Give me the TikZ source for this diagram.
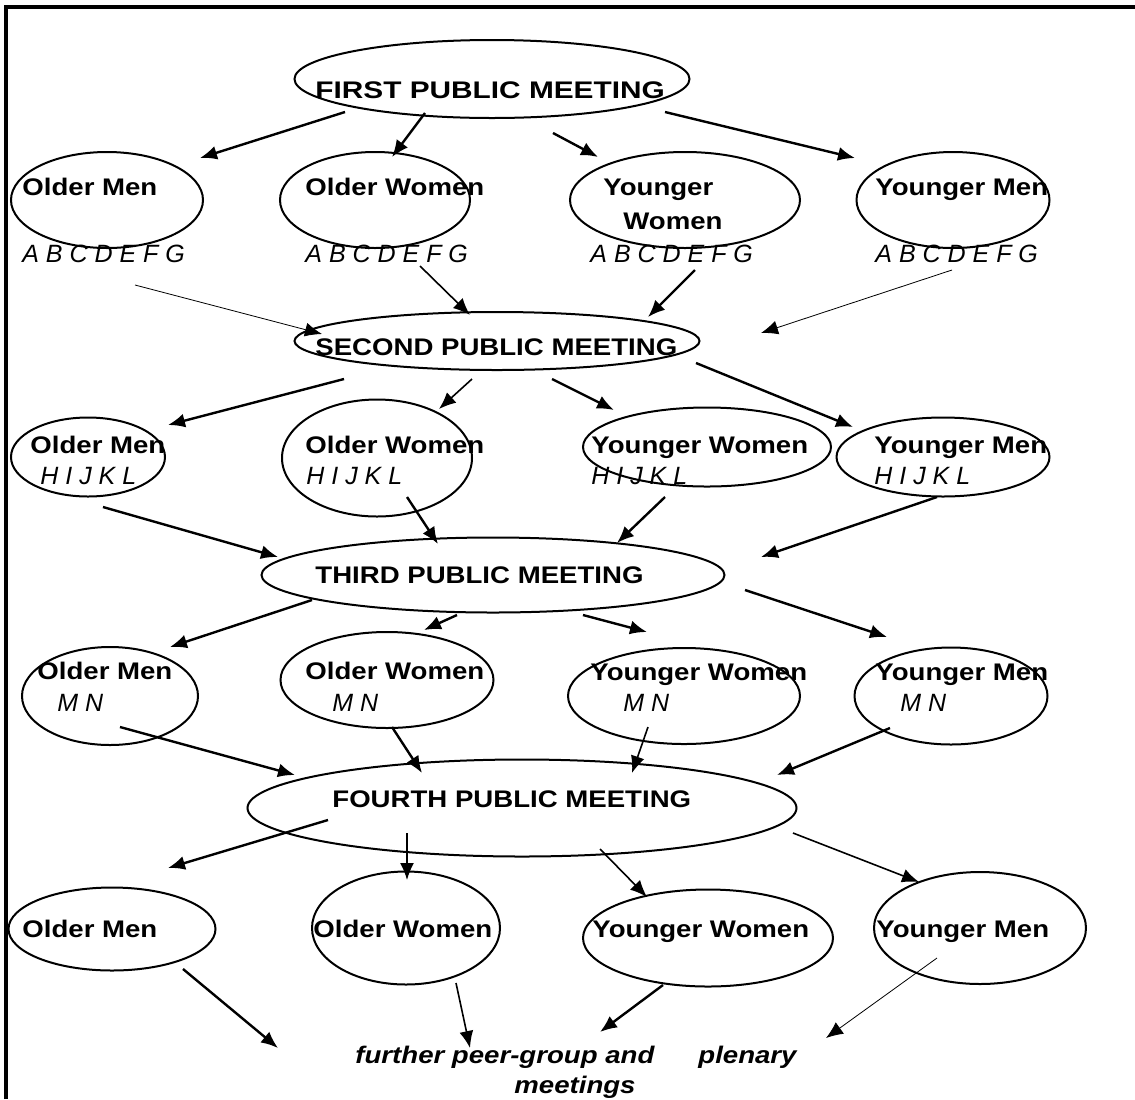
\documentclass[tikz,border=0pt]{standalone}
\usepackage{fontspec}
\setmainfont{Liberation Sans}
\newfontfamily\grpfont{Liberation Sans}[FakeStretch=1.15]
\usetikzlibrary{arrows.meta, positioning, calc, shapes.geometric}

\tikzset{
  grp/.style 2 args={ellipse, draw, line width=1pt, minimum width=#1*0.5pt, minimum height=#2*0.5pt, inner sep=0pt},
  lab/.style={anchor=base west, inner sep=0pt, font=\grpfont\bfseries\fontsize{12}{15}\selectfont},
  ltr/.style={anchor=base west, inner sep=0pt, font=\itshape\fontsize{12.5}{15}\selectfont},
  arr/.style={-{Latex[length=8.5pt,width=7pt]}, line width=1.2pt},
  arrm/.style={arr, line width=0.8pt},
  arrt/.style={arr, line width=0.4pt},
}

\begin{document}
\begin{tikzpicture}[x=0.5pt, y=-0.5pt]
    \useasboundingbox (0,0) rectangle (1135,1099);
    \draw[line width=1.6pt] (6,1099) -- (6,7) -- (1135,7);

    % first meeting and the first groups
    \node[grp={395}{78}] (first) at (492,79) {};
    \node[lab] (first-t) at (315,98) {\scalebox{1.08}[1]{FIRST PUBLIC MEETING}};
    \node[grp={192}{96}] (om1) at (107,200) {};
    \node[grp={190}{96}] (ow1) at (375,200) {};
    \node[grp={230}{96}] (yw1) at (685,200) {};
    \node[grp={193}{96}] (ym1) at (953,200) {};
    \node[lab] (om1-t) at (22,195) {Older Men};
    \node[lab] (ow1-t) at (305,195) {Older Women};
    \node[lab] (yw1-t) at (603,195) {Younger};
    \node[lab] (yw1-u) at (623,229) {Women};
    \node[lab] (ym1-t) at (875,195) {Younger Men};
    \node[ltr] (om1-l) at (22,262) {A B C D E F G};
    \node[ltr] (ow1-l) at (305,262) {A B C D E F G};
    \node[ltr] (yw1-l) at (590,262) {A B C D E F G};
    \node[ltr] (ym1-l) at (875,262) {A B C D E F G};

    % second meeting
    \node[grp={405}{58}] (second) at (497,341) {};
    \node[lab] (second-t) at (315,355) {SECOND PUBLIC MEETING};
    \node[grp={154}{79}] (om2) at (88,457) {};
    \node[grp={190}{117}] (ow2) at (377,458) {};
    \node[grp={248}{79}] (yw2) at (707,447) {};
    \node[grp={213}{79}] (ym2) at (943,457) {};
    \node[lab] (om2-t) at (30,453) {Older Men};
    \node[lab] (ow2-t) at (305,453) {Older Women};
    \node[lab] (yw2-t) at (591,453) {Younger Women};
    \node[lab] (ym2-t) at (874,453) {Younger Men};
    \node[ltr] (om2-l) at (40,484) {H I J K L};
    \node[ltr] (ow2-l) at (306,484) {H I J K L};
    \node[ltr] (yw2-l) at (591,484) {H I J K L};
    \node[ltr] (ym2-l) at (874,484) {H I J K L};

    % third meeting
    \node[grp={463}{75}] (third) at (493,575) {};
    \node[lab] (third-t) at (315,583) {THIRD PUBLIC MEETING};
    \node[grp={176}{98}] (om3) at (110,696) {};
    \node[grp={213}{96}] (ow3) at (387,680) {};
    \node[grp={232}{96}] (yw3) at (684,696) {};
    \node[grp={193}{97}] (ym3) at (951,696) {};
    \node[lab] (om3-t) at (37,679) {Older Men};
    \node[lab] (ow3-t) at (305,679) {Older Women};
    \node[lab] (yw3-t) at (590,680) {Younger Women};
    \node[lab] (ym3-t) at (875,680) {Younger Men};
    \node[ltr] (om3-l) at (57,711) {M N};
    \node[ltr] (ow3-l) at (332,711) {M N};
    \node[ltr] (yw3-l) at (623,711) {M N};
    \node[ltr] (ym3-l) at (900,711) {M N};

    % fourth meeting
    \node[grp={549}{97}] (fourth) at (522,808) {};
    \node[lab] (fourth-t) at (332,807) {FOURTH PUBLIC MEETING};
    \node[grp={207}{83}] (om4) at (112,929) {};
    \node[grp={188}{113}] (ow4) at (406,928) {};
    \node[grp={250}{97}] (yw4) at (708,938) {};
    \node[grp={212}{112}] (ym4) at (980,928) {};
    \node[lab] (om4-t) at (22,937) {Older Men};
    \node[lab] (ow4-t) at (313,937) {Older Women};
    \node[lab] (yw4-t) at (592,937) {Younger Women};
    \node[lab] (ym4-t) at (876,937) {Younger Men};
    \node[lab, anchor=base, font=\grpfont\bfseries\itshape\fontsize{12}{15}\selectfont] (furth) at (576,1063) {further peer-group and\hspace{22pt}plenary};
    \node[lab, anchor=base, font=\grpfont\bfseries\itshape\fontsize{12}{15}\selectfont] (meet) at (575,1093) {meetings};

    % arrows
    \draw[arr] ($(first)+(-147,33)$) -- ($(om1)+(93,-42)$);
    \draw[arr] ($(first)+(-67,34)$) -- ($(ow1)+(17,-43)$);
    \draw[arr] ($(first)+(61,54)$) -- ($(yw1)+(-87,-43)$);
    \draw[arr] ($(first)+(173,33)$) -- ($(ym1)+(-98,-42)$);

    \draw[arrt] ($(om1)+(28,85)$) -- ($(second)+(-175,-7)$);
    \draw[arrm] ($(ow1)+(45,66)$) -- ($(second)+(-27,-26)$);
    \draw[arr] ($(yw1)+(10,70)$) -- ($(second)+(151,-24)$);
    \draw[arrt] ($(ym1)+(-1,70)$) -- ($(second)+(264,-8)$);

    \draw[arr] ($(second)+(-153,38)$) -- ($(om2)+(80,-32)$);
    \draw[arrm] ($(second)+(-25,38)$) -- ($(ow2)+(62,-49)$);
    \draw[arr] ($(second)+(55,38)$) -- ($(yw2)+(-93,-37)$);
    \draw[arr] ($(second)+(199,22)$) -- ($(ym2)+(-90,-30)$);

    \draw[arr] ($(om2)+(15,50)$) -- ($(third)+(-215,-18)$);
    \draw[arr] ($(ow2)+(30,39)$) -- ($(third)+(-55,-31)$);
    \draw[arr] ($(yw2)+(-42,50)$) -- ($(third)+(124,-32)$);
    \draw[arr] ($(ym2)+(-6,40)$) -- ($(third)+(268,-18)$);

    \draw[arr] ($(third)+(-181,25)$) -- ($(om3)+(60,-49)$);
    \draw[arr] ($(third)+(-36,40)$) -- ($(ow3)+(37,-50)$);
    \draw[arr] ($(third)+(90,40)$) -- ($(yw3)+(-37,-64)$);
    \draw[arr] ($(third)+(252,15)$) -- ($(ym3)+(-64,-59)$);

    \draw[arr] ($(om3)+(10,31)$) -- ($(fourth)+(-227,-33)$);
    \draw[arr] ($(ow3)+(5,47)$) -- ($(fourth)+(-100,-35)$);
    \draw[arrm] ($(yw3)+(-36,31)$) -- ($(fourth)+(110,-35)$);
    \draw[arr] ($(ym3)+(-61,32)$) -- ($(fourth)+(255,-33)$);

    \draw[arr] ($(fourth)+(-194,12)$) -- ($(om4)+(56,-61)$);
    \draw[arrm] ($(fourth)+(-115,25)$) -- ($(ow4)+(1,-48)$);
    \draw[arrm] ($(fourth)+(78,41)$) -- ($(yw4)+(-61,-41)$);
    \draw[arrm] ($(fourth)+(271,25)$) -- ($(ym4)+(-61,-46)$);

    \draw[arr] ($(om4)+(71,40)$) -- ($(furth.base)+(-298,-15)$);
    \draw[arrm] ($(ow4)+(50,55)$) -- ($(furth.base)+(-106,-15)$);
    \draw[arr] ($(yw4)+(-45,47)$) -- ($(furth.base)+(24,-31)$);
    \draw[arrt] ($(ym4)+(-43,30)$) -- ($(furth.base)+(250,-25)$);
\end{tikzpicture}
\end{document}
